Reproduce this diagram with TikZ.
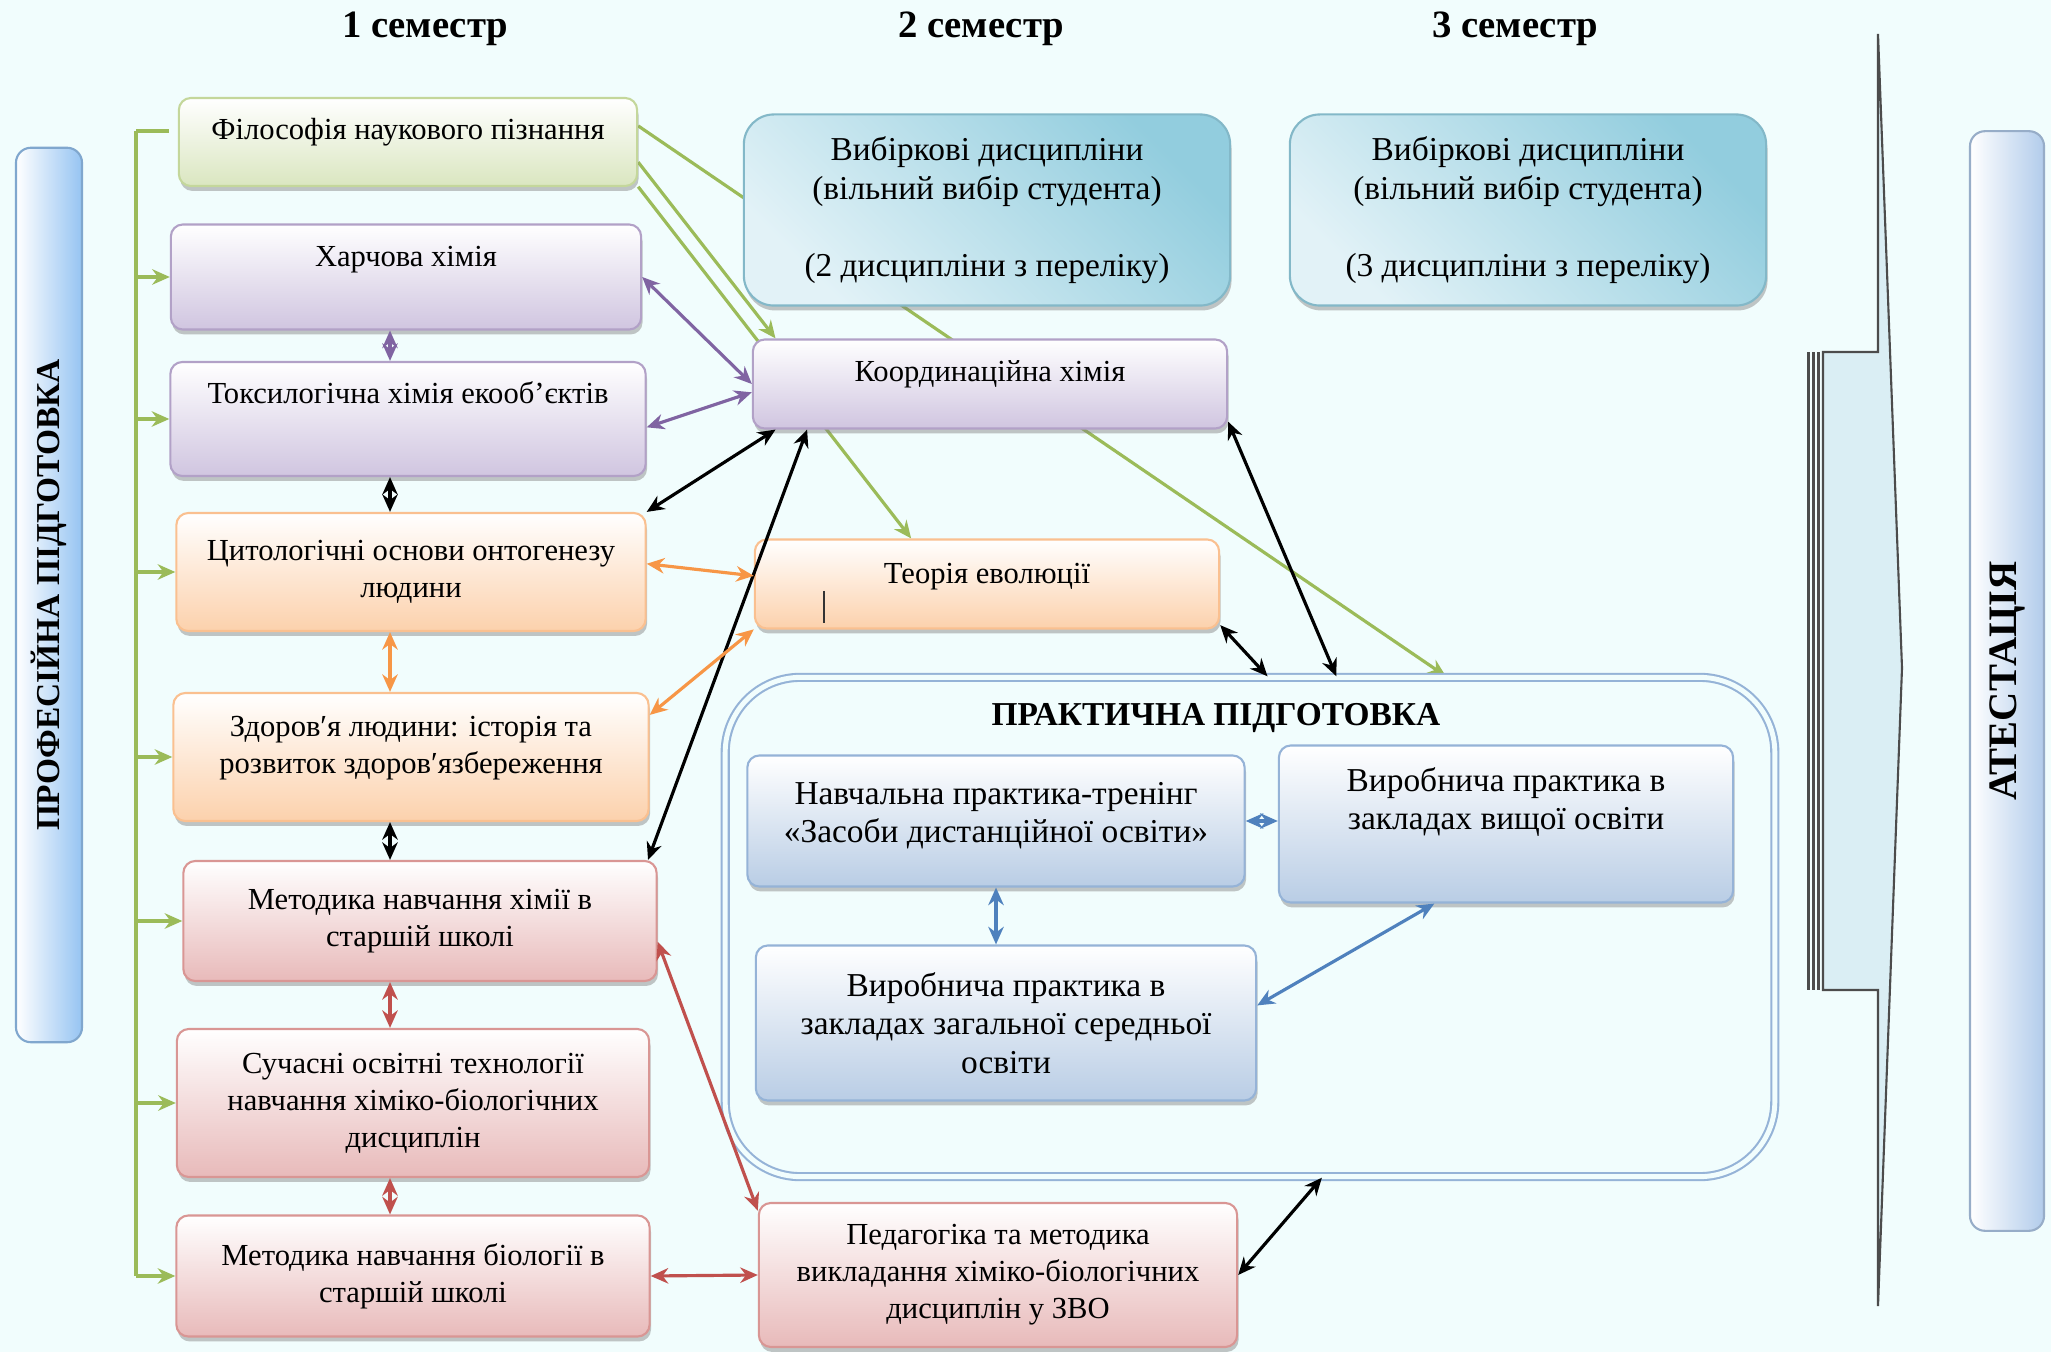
\documentclass[tikz,border=0pt]{standalone}
\usepackage{fontspec}
\setmainfont{Liberation Serif}
\usetikzlibrary{arrows.meta,positioning,shadows,backgrounds}
\definecolor{bgcol}{RGB}{241,253,253}
\definecolor{grnline}{RGB}{155,187,89}
\definecolor{grnedge}{RGB}{196,215,155}
\definecolor{grnfill}{RGB}{218,230,192}
\definecolor{purline}{RGB}{128,100,162}
\definecolor{puredge}{RGB}{178,161,199}
\definecolor{purfill}{RGB}{208,197,224}
\definecolor{oraline}{RGB}{247,150,70}
\definecolor{oraedge}{RGB}{250,192,144}
\definecolor{orafill}{RGB}{252,209,172}
\definecolor{redline}{RGB}{192,80,77}
\definecolor{rededge}{RGB}{217,150,148}
\definecolor{redfill}{RGB}{232,186,186}
\definecolor{bluline}{RGB}{79,129,189}
\definecolor{bluedge}{RGB}{149,179,215}
\definecolor{blufill}{RGB}{185,205,229}
\definecolor{vybdark}{RGB}{146,205,222}
\definecolor{vyblight}{RGB}{226,242,247}
\definecolor{profblue}{RGB}{150,196,242}
\definecolor{atestblue}{RGB}{178,204,235}
\definecolor{arrfill}{RGB}{218,238,244}
\begin{document}
\begin{tikzpicture}[x=0.01cm,y=-0.01cm,>={Stealth[length=5pt,width=4.4pt]},
  every node/.style={font=\fontsize{8.7}{10.5}\selectfont},
  semfont/.style={font=\bfseries\fontsize{11}{13}\selectfont},
  titlefont/.style={font=\bfseries\fontsize{9.5}{11}\selectfont},
  boxsize/.style 2 args={minimum width=#1cm,minimum height=#2cm},
  box/.style={draw,rounded corners=0.12cm,align=center,line width=0.6pt,
    drop shadow={shadow xshift=0.4pt,shadow yshift=-1.4pt,opacity=0.45,fill=black!50}},
  grnbox/.style={box,draw=grnedge,top color=white,bottom color=grnfill},
  purbox/.style={box,draw=puredge,top color=white,bottom color=purfill},
  orabox/.style={box,draw=oraedge,top color=white,bottom color=orafill},
  redbox/.style={box,draw=rededge,top color=white,bottom color=redfill},
  blubox/.style={box,draw=bluedge,top color=white,bottom color=blufill,font=\fontsize{9.5}{10.9}\selectfont},
  vybbox/.style={box,rounded corners=0.3cm,draw=vybdark!90!black,top color=vybdark,bottom color=vyblight,
    shading angle=-45,font=\fontsize{9.5}{11}\selectfont},
  prakbox/.style={draw=bluedge,double=bgcol,double distance=1.4pt,line width=0.6pt,rounded corners=0.75cm},
  sidebar/.style={draw=#1!85!black,left color=white,right color=#1,rounded corners=0.15cm,line width=0.6pt},
  link/.style={<->,line width=0.9pt},
  grnlink/.style={->,grnline,line width=0.9pt}]
  \useasboundingbox (0,0) rectangle (2051,1352);
  \node[semfont] (sem1) at (425,29) {1 семестр};
  \node[semfont] (sem2) at (981,29) {2 семестр};
  \node[semfont] (sem3) at (1515,29) {3 семестр};
  \node[sidebar=profblue,boxsize={0.66}{8.94}] (prof) at (49,595) {};
  \node[titlefont,rotate=90] (proftext) at (prof) {ПРОФЕСІЙНА ПІДГОТОВКА};
  \node[sidebar=atestblue,boxsize={0.74}{10.99}] (atest) at (2007,681) {};
  \node[font=\bfseries\fontsize{11.5}{13}\selectfont,rotate=90] (atesttext) at (atest) {АТЕСТАЦІЯ};
  \node[grnbox,boxsize={4.58}{0.88},text depth=0.26cm] (fil) at (408,142) {Філософія наукового пізнання};
  \node[purbox,boxsize={4.70}{1.05},text depth=0.42cm] (harch) at (406,277) {Харчова хімія};
  \node[purbox,boxsize={4.75}{1.14},text depth=0.52cm] (toks) at (408,419) {Токсилогічна хімія екооб’єктів};
  \node[orabox,boxsize={4.69}{1.18}] (tsyt) at (411,572) {Цитологічні основи онтогенезу\\людини};
  \node[orabox,boxsize={4.75}{1.28},text depth=0.25cm] (zdor) at (411,757) {Здоров′я людини: історія та\\розвиток здоров′язбереження};
  \node[redbox,boxsize={4.73}{1.20}] (metkhim) at (420,921) {Методика навчання хімії в\\старшій школі};
  \node[redbox,boxsize={4.72}{1.48}] (suchasni) at (413,1103) {Сучасні освітні технології\\навчання хіміко-біологічних\\дисциплін};
  \node[redbox,boxsize={4.73}{1.21}] (metbio) at (413,1276) {Методика навчання біології в\\старшій школі};
  \node[vybbox,boxsize={4.86}{1.91}] (vyb2) at (987,210) {Вибіркові дисципліни\\(вільний вибір студента)\\[11pt](2 дисципліни з переліку)};
  \node[vybbox,boxsize={4.76}{1.91}] (vyb3) at (1528,210) {Вибіркові дисципліни\\(вільний вибір студента)\\[11pt](3 дисципліни з переліку)};
  \node[purbox,boxsize={4.74}{0.89},text depth=0.26cm] (koord) at (990,384) {Координаційна хімія};
  \node[orabox,boxsize={4.64}{0.89},text depth=0.22cm] (teor) at (987,584) {Теорія еволюції};
  \draw[black!80,line width=0.5pt] ([shift={(-163,7)}]teor.center) -- ++(0,32);
  \node[prakbox,boxsize={10.49}{4.99}] (prak) at (1250,927) {};
  \node[titlefont,below=0.15cm of prak.north,xshift=-0.34cm] (praktitle) {ПРАКТИЧНА ПІДГОТОВКА};
  \node[blubox,boxsize={4.97}{1.31},text depth=0.17cm] (navch) at (996,821) {Навчальна практика-тренінг\\«Засоби дистанційної освіти»};
  \node[blubox,boxsize={4.54}{1.57},text depth=0.51cm] (vyrvyshch) at (1506,824) {Виробнича практика в\\закладах вищої освіти};
  \node[blubox,boxsize={5.00}{1.55}] (vyrzag) at (1006,1023) {Виробнича практика в\\закладах загальної середньої\\освіти};
  \node[redbox,boxsize={4.78}{1.44}] (pedag) at (998,1275) {Педагогіка та методика\\викладання хіміко-біологічних\\дисциплін у ЗВО};
  \filldraw[fill=arrfill,draw=black!70,line width=0.6pt] (1823,352) -- (1878,352) -- (1878,34) -- (1902,668) -- (1878,1306) -- (1878,990) -- (1823,990) -- cycle;
  \foreach \x in {1807,1812,1817}
    \fill[black!70] (\x,352) rectangle (\x+3,990);
  \begin{scope}[on background layer]
    \fill[bgcol] (0,0) rectangle (2051,1352);
    \draw[grnlink] (fil.4) -- (prak.52);
    \draw[grnlink] (fil.-5) -- (koord.168);
    \draw[grnlink] (fil.-11) -- (teor.149);
  \end{scope}
  \coordinate (sptop) at (136,131);
  \coordinate (filtick) at (169,131);
  \coordinate (vx) at (390,0);
  \draw[grnlink,-] (sptop) -- (sptop |- metbio.west);
  \draw[grnlink,-] (sptop) -- (filtick);
  \foreach \n in {harch,toks,tsyt,zdor,metkhim,suchasni,metbio}
    \draw[grnlink] (sptop |- \n.west) -- (\n.west);
  \foreach \a/\b/\c in {harch/toks/purline,toks/tsyt/black,tsyt/zdor/oraline,zdor/metkhim/black,metkhim/suchasni/redline,suchasni/metbio/redline}
    \draw[link,\c] (vx |- \a.south) -- (vx |- \b.north);
  \draw[link,purline] (harch.east) -- (koord.west);
  \draw[link,purline] (toks.-2) -- (koord.182);
  \draw[link] (tsyt.north east) -- (koord.-168);
  \draw[link] (metkhim.15) -- (koord.-166);
  \draw[link] (koord.-9) -- (prak.71);
  \draw[link] (teor.-10) -- (prak.86);
  \draw[link] (pedag.east) -- (prak.-74);
  \draw[link,oraline] (tsyt.2) -- (teor.178);
  \draw[link,oraline] (zdor.10) -- (teor.-169);
  \draw[link,redline] (metkhim.-5) -- (pedag.165);
  \draw[link,redline] (metbio.east) -- (pedag.west);
  \draw[link,bluline] (navch.east) -- (navch.east -| vyrvyshch.west);
  \draw[link,bluline] (navch.south) -- (navch.south |- vyrzag.north);
  \draw[link,bluline] (vyrzag.4) -- (vyrvyshch.-132);
\end{tikzpicture}
\end{document}
